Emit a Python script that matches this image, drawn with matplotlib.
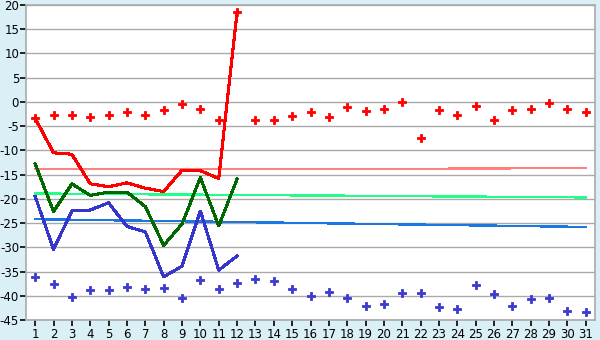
import matplotlib
matplotlib.use("Agg")
import matplotlib.pyplot as plt

plt.rcParams['font.family'] = ['DejaVu Sans']
plt.rcParams['axes.unicode_minus'] = False

days = list(range(1, 32))
line_days = list(range(1, 13))

red_line = [-3.4, -10.5, -10.8, -16.9, -17.5, -16.7, -17.8, -18.5, -14.1, -14.2, -15.8, 18.6]
green_line = [-12.8, -22.6, -16.9, -19.3, -18.6, -18.6, -21.6, -29.6, -25.2, -15.6, -25.6, -15.9]
blue_line = [-19.5, -30.4, -22.5, -22.3, -20.8, -25.7, -26.8, -36.1, -33.9, -22.5, -34.7, -31.8]

red_points = [-3.4, -2.8, -2.8, -3.2, -2.8, -2.1, -2.8, -1.7, -0.5, -1.5, -3.8, 18.6,
              -3.8, -3.8, -3.0, -2.1, -3.2, -1.1, -1.9, -1.5, -0.1, -7.5, -1.7, -2.8,
              -0.9, -3.8, -1.7, -1.5, -0.3, -1.5, -2.1]
blue_points = [-36.2, -37.6, -40.2, -38.9, -38.9, -38.1, -38.7, -38.3, -40.5, -36.8, -38.5, -37.4,
               -36.6, -37.0, -38.7, -40.1, -39.3, -40.5, -42.2, -41.8, -39.5, -39.5, -42.4, -42.8,
               -37.8, -39.7, -42.2, -40.7, -40.5, -43.2, -43.4]

# trend lines, value at day 1 and day 31
trend_days = [1, 31]
red_trend = [-13.9, -13.7]
green_trend = [-18.9, -19.7]
blue_trend = [-24.2, -25.8]

fig = plt.figure(figsize=(6, 3.4), dpi=100, facecolor='#daeff6')
ax = fig.add_axes([26/600, 20/340, 569/600, 315/340])
ax.set_facecolor('white')

ax.plot(trend_days, red_trend, color='#ff8080', lw=0.8, antialiased=False)
ax.plot(trend_days, green_trend, color='#22ff88', lw=1.0, antialiased=False)
ax.plot(trend_days, blue_trend, color='#1a78e0', lw=1.0, antialiased=False)

ax.plot(line_days, red_line, color='#ff0000', lw=1.5, antialiased=False)
ax.plot(line_days, green_line, color='#006a00', lw=1.5, antialiased=False)
ax.plot(line_days, blue_line, color='#3636cc', lw=1.5, antialiased=False)

ax.plot(days, red_points, ls='none', marker='P', ms=5.5, color='#ff0000', mew=0.6)
ax.plot(days, blue_points, ls='none', marker='P', ms=5.5, color='#3a3ad0', mew=0.6)

ax.set_xlim(0.5, 31.5)
ax.set_ylim(-45, 20)
ax.set_xticks(days)
ax.set_yticks(range(-45, 21, 5))
ax.yaxis.grid(True, color='#aaaaaa', lw=1.0)
ax.set_axisbelow(True)

for side in ['left', 'right', 'top', 'bottom']:
    ax.spines[side].set_color('#aaaaaa')
    ax.spines[side].set_linewidth(1.2)

ax.tick_params(axis='both', colors='black', labelsize=8.5, length=4, width=1.2, pad=2)
ax.tick_params(axis='y', pad=1)

fig.savefig('out.png', dpi=100, facecolor=fig.get_facecolor())
